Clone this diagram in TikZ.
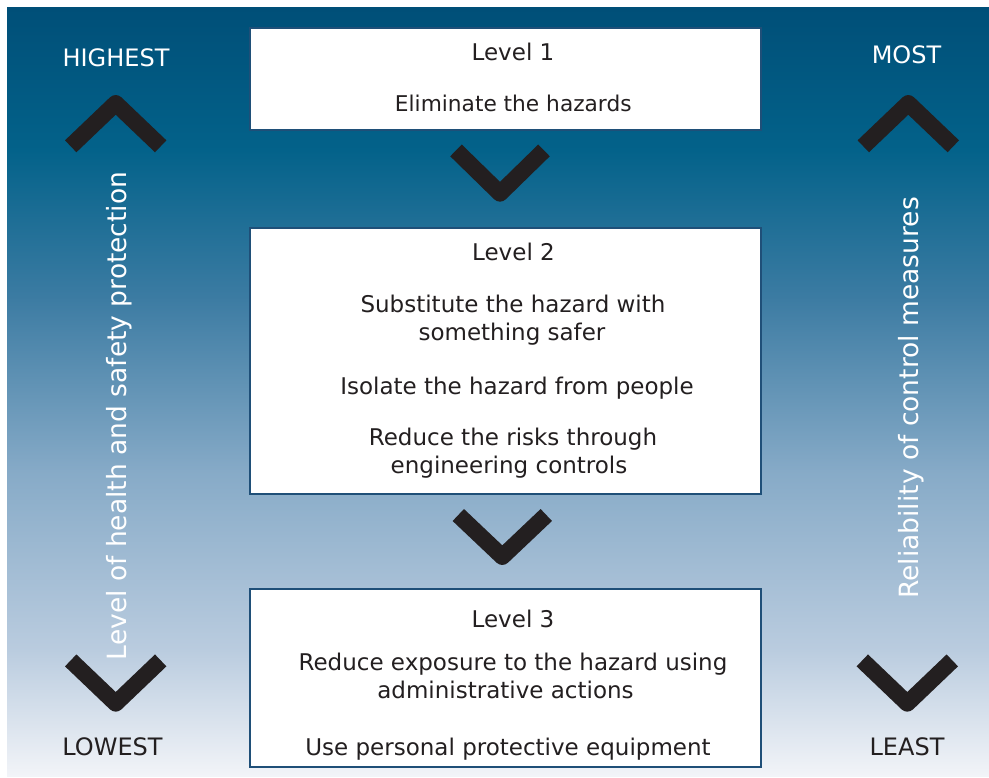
\documentclass[tikz,border=0pt]{standalone}
\usepackage{fontspec}
\setmainfont{DejaVu Sans}

\definecolor{ink}{HTML}{231F20}
\definecolor{frame}{HTML}{1F4F78}
\definecolor{bgA}{HTML}{004F78}
\definecolor{bgB}{HTML}{03628A}
\definecolor{bgC}{HTML}{3D7CA3}
\definecolor{bgD}{HTML}{86AAC7}
\definecolor{bgE}{HTML}{BACCDF}
\definecolor{bgF}{HTML}{F2F4F8}

\begin{document}
\begin{tikzpicture}[x=1pt,y=-1pt,
    levelbox/.style={draw=frame,line width=1.2pt,fill=white,minimum width=511pt,inner sep=0pt},
    boxtext/.style={anchor=base,text=ink,inner sep=0pt,font=\fontsize{23}{27}\selectfont},
    endtext/.style={anchor=base,inner sep=0pt,font=\fontsize{24}{28}\selectfont},
    axistext/.style={anchor=base,rotate=90,text=white,inner sep=0pt,font=\fontsize{26.5}{30}\selectfont},
    chev/.style={draw=ink,line width=16.5pt,line join=round,line cap=butt}]
  \useasboundingbox (0,0) rectangle (989,778);
  \fill[white] (0,0) rectangle (989,778);

  % background
  \shade[top color=bgA,bottom color=bgB] (7,8) rectangle (989,151);
  \shade[top color=bgB,bottom color=bgC] (7,150) rectangle (989,301);
  \shade[top color=bgC,bottom color=bgD] (7,300) rectangle (989,471);
  \shade[top color=bgD,bottom color=bgE] (7,470) rectangle (989,651);
  \shade[top color=bgE,bottom color=bgF] (7,650) rectangle (989,776);

  % the three levels
  \node[levelbox,minimum height=102pt] (level1) at (505.5,79) {};
  \node[levelbox,minimum height=266pt] (level2) at (505.5,361) {};
  \node[levelbox,minimum height=178pt] (level3) at (505.5,678) {};

  \node[boxtext] (title1) at (513,60.5) {Level 1};
  \node[boxtext,font=\fontsize{21.7}{26}\selectfont] (elim) at (513.3,112) {Eliminate the hazards};

  \node[boxtext] (title2) at (513.5,260.7) {Level 2};
  \node[boxtext] (subst) at (513,313) {Substitute the hazard with};
  \node[boxtext] (safer) at (512,341) {something safer};
  \node[boxtext] (isol) at (517,394) {Isolate the hazard from people};
  \node[boxtext] (risks) at (513,445.3) {Reduce the risks through};
  \node[boxtext] (eng) at (509,473.3) {engineering controls};

  \node[boxtext] (title3) at (513,627) {Level 3};
  \node[boxtext] (expo) at (513,670) {Reduce exposure to the hazard using};
  \node[boxtext] (admin) at (505.5,698.3) {administrative actions};
  \node[boxtext] (ppe) at (508,755) {Use personal protective equipment};

  % side scales
  \node[endtext,text=white] (highest) at (116,67) {HIGHEST};
  \node[endtext,text=white] (most) at (906.5,64) {MOST};
  \node[endtext,text=ink] (lowest) at (112.5,755) {LOWEST};
  \node[endtext,text=ink] (least) at (907,755) {LEAST};

  \node[axistext] (protect) at (126,416) {Level of health and safety protection};
  \node[axistext] (reliab) at (918,398) {Reliability of control measures};

  % chevrons
  \draw[chev] (70.7,146.3) -- (115.7,103.3) -- (160.7,146.3);
  \draw[chev] (863.3,146.3) -- (908.3,103.3) -- (953.3,146.3);
  \draw[chev] (70.7,660.4) -- (115.7,703.4) -- (160.7,660.4);
  \draw[chev] (862.3,660.4) -- (907.3,703.4) -- (952.3,660.4);
  \draw[chev] (456,150.4) -- (500,193.4) -- (544,150.4);
  \draw[chev] (458.3,515) -- (502.3,556.7) -- (546.3,515);
\end{tikzpicture}
\end{document}
